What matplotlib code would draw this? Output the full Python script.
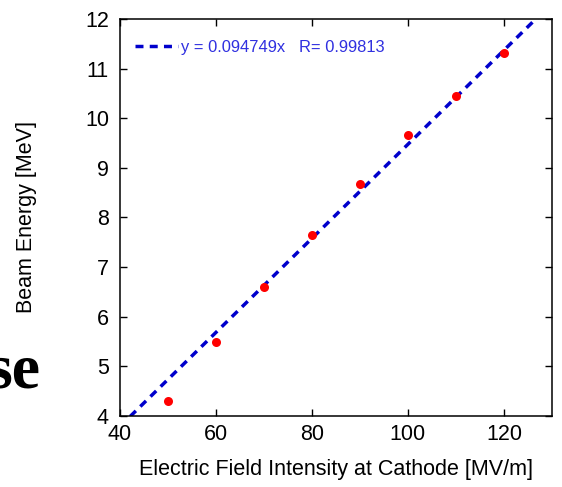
import numpy as np
import matplotlib.pyplot as plt

# Measured data
field = [50, 60, 70, 80, 90, 100, 110, 120]  # MV/m
energy = [4.31, 5.49, 6.59, 7.65, 8.67, 9.67, 10.45, 11.32]  # MeV

# Linear fit through origin (from the original chart)
slope = 0.094749
r_value = 0.99813

xticks = [40, 60, 80, 100, 120]
yticks = [4, 5, 6, 7, 8, 9, 10, 11, 12]

plt.rcParams["font.family"] = ["Liberation Sans", "DejaVu Sans"]

fig = plt.figure(figsize=(5.62, 4.87), dpi=100)
ax = fig.add_axes([0.2135, 0.1458, 0.7685, 0.8152])

fit_x = np.array([40, 130])
ax.plot(fit_x, slope * fit_x, color="#0000cc", lw=2.5, dashes=(2.3, 1.8),
        label=f"y = {slope}x   R= {r_value}")
ax.plot(field, energy, "o", color="red", ms=6.5, mec="none")

ax.set_xlim(40, 130)
ax.set_ylim(4, 12)
ax.set_xticks(xticks)
ax.set_yticks(yticks)
ax.tick_params(direction="in", length=5, width=1, top=True, right=True,
               labelsize=15.5)
ax.tick_params(axis="y", pad=8)
ax.tick_params(axis="x", pad=6)
for s in ax.spines.values():
    s.set_linewidth(1.1)

ax.set_xlabel("Electric Field Intensity at Cathode [MV/m]", fontsize=15.5)
ax.set_ylabel("Beam Energy [MeV]", fontsize=15.5)
ax.xaxis.set_label_coords(0.5, -(470 - 416) / 397, transform=ax.transAxes)
ax.yaxis.set_label_coords(-(120 - 26) / 432, 0.5, transform=ax.transAxes)
ax.xaxis.label.set_va("center")
ax.yaxis.label.set_va("center")

leg = ax.legend(loc="upper left", frameon=False, fontsize=11.9, handlelength=2.6,
                handletextpad=0.2, labelcolor="#3030e0",
                bbox_to_anchor=(0.0, 0.985), borderaxespad=0.5)

# fragment of slide title visible at left
fig.text(40 / 562, 1 - 387 / 487, "se", family="Liberation Serif",
         fontweight="bold", fontsize=46, ha="right", va="baseline")

plt.savefig("out.png", dpi=100)
